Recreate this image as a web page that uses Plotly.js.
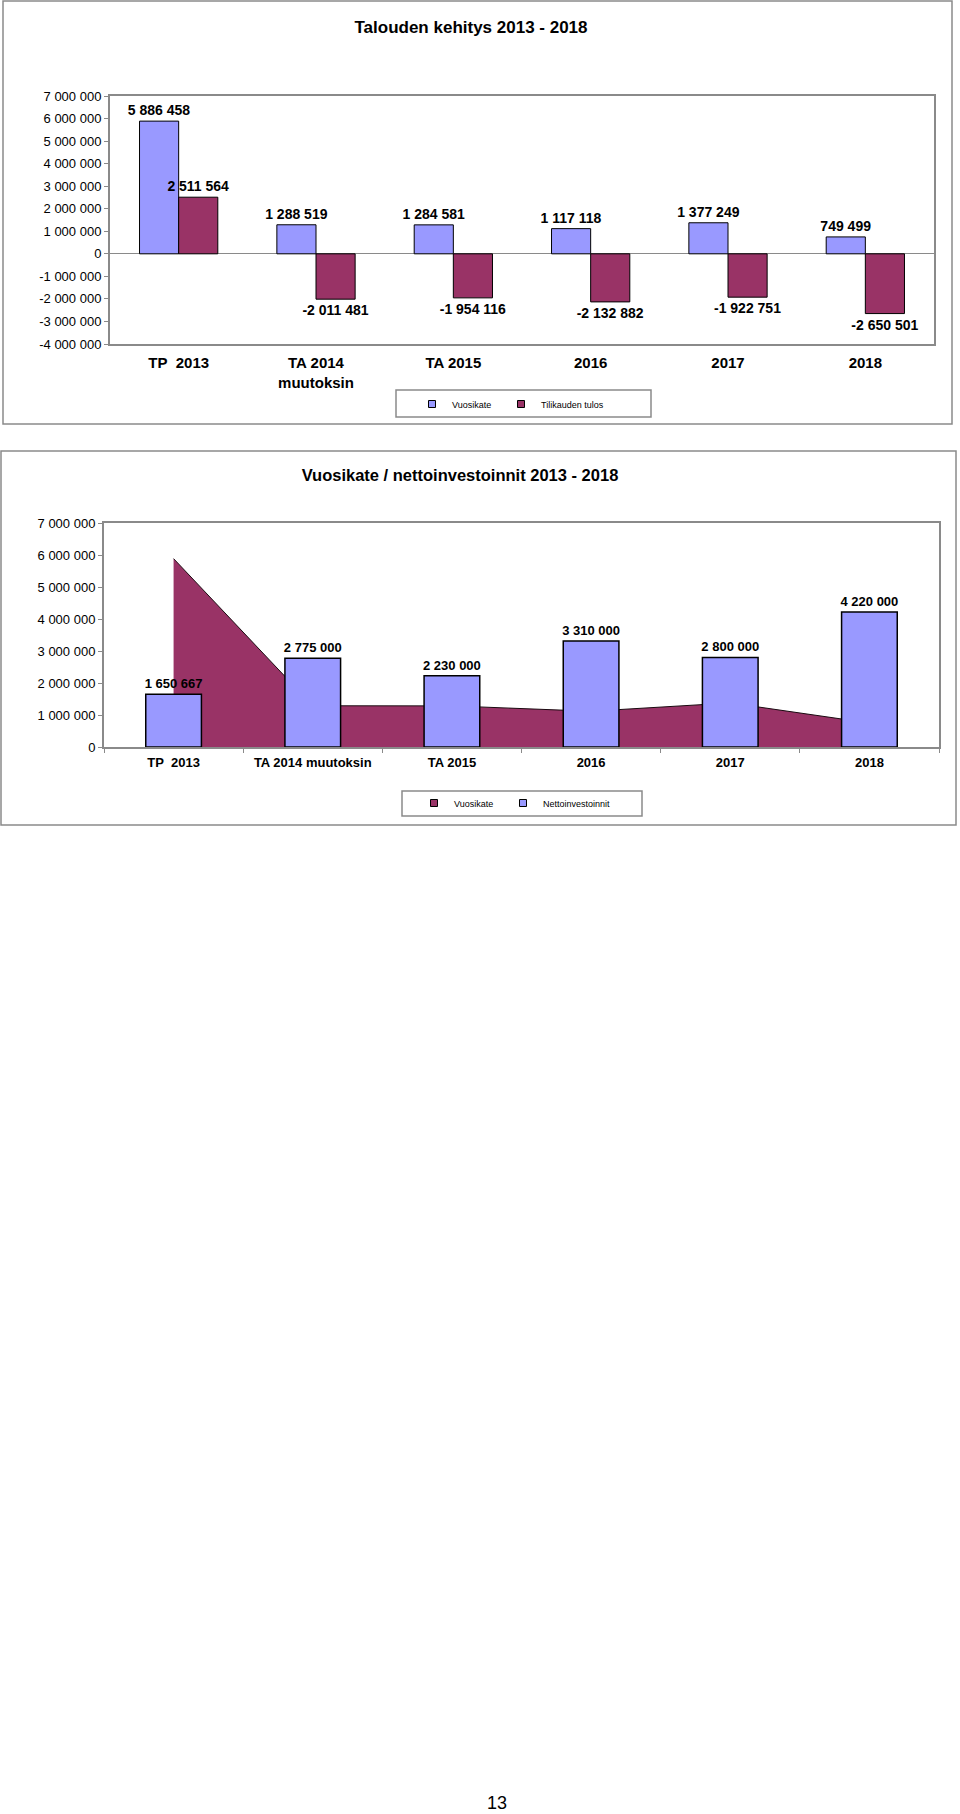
<!DOCTYPE html>
<html>
<head>
<meta charset="utf-8">
<script src="https://cdn.plot.ly/plotly-3.0.1.min.js"></script>
<style>
  html, body { margin: 0; padding: 0; background: #fff; }
  body { width: 960px; height: 1814px; position: relative; overflow: hidden; }
  #chart1 { position: absolute; left: 0; top: 0; width: 960px; height: 430px; }
  #chart2 { position: absolute; left: 0; top: 440px; width: 960px; height: 390px; }
  #pagenum { position: absolute; left: 0; width: 994px; top: 1793px; text-align: center;
             font-family: "Liberation Sans", Arial, sans-serif; font-size: 18px; color: #000; }
</style>
</head>
<body>
<div id="chart1"></div>
<div id="chart2"></div>
<div id="pagenum">13</div>
<script>
// ---------- DATA ----------
const categories1 = ['TP\u00a0 2013', 'TA 2014<br>muutoksin', 'TA 2015', '2016', '2017', '2018'];
const categories2 = ['TP\u00a0 2013', 'TA 2014 muutoksin', 'TA 2015', '2016', '2017', '2018'];
const vuosikate = [5886458, 1288519, 1284581, 1117118, 1377249, 749499];
const tilikaudenTulos = [2511564, -2011481, -1954116, -2132882, -1922751, -2650501];
const nettoinvestoinnit = [1650667, 2775000, 2230000, 3310000, 2800000, 4220000];
const yTicks1 = [-4000000, -3000000, -2000000, -1000000, 0, 1000000, 2000000, 3000000, 4000000, 5000000, 6000000, 7000000];
const yTicks2 = [0, 1000000, 2000000, 3000000, 4000000, 5000000, 6000000, 7000000];
const title1 = 'Talouden kehitys 2013 - 2018';
const title2 = 'Vuosikate / nettoinvestoinnit 2013 - 2018';

// ---------- HELPERS ----------
function fmt(v) {
  const s = Math.abs(v).toString().replace(/\B(?=(\d{3})+(?!\d))/g, ' ');
  return (v < 0 ? '-' : '') + s;
}
const FONT = '"Liberation Sans", Arial, sans-serif';
const BLUE = '#9999FF';
const MAROON = '#993366';
const FRAME = '#8a8a8a';

function mk(l, t, w, h) {
  return {
    x: px => (px - l) / w,
    y: py => (t + h - py) / h
  };
}

// ---------- CHART 1 ----------
(function () {
  const W = 960, H = 430, l = 110, t = 96, r = 26, b = 86;
  const pw = W - l - r, ph = H - t - b;
  const P = mk(l, t, pw, ph);
  const yMin = yTicks1[0], yMax = yTicks1[yTicks1.length - 1];

  const traces = [
    {
      type: 'bar', name: 'Vuosikate', x: categories1, y: vuosikate,
      marker: { color: BLUE, line: { color: '#000', width: 1 } },
      text: vuosikate.map(fmt), textposition: 'outside', cliponaxis: false,
      constraintext: 'none',
      textfont: { family: FONT, size: 14, color: '#000', weight: 'bold' },
      showlegend: false, hoverinfo: 'skip'
    },
    {
      type: 'bar', name: 'Tilikauden tulos', x: categories1, y: tilikaudenTulos,
      marker: { color: MAROON, line: { color: '#000', width: 1 } },
      text: tilikaudenTulos.map(fmt), textposition: 'outside', cliponaxis: false,
      constraintext: 'none',
      textfont: { family: FONT, size: 14, color: '#000', weight: 'bold' },
      showlegend: false, hoverinfo: 'skip'
    },
    { type: 'scatter', mode: 'markers', name: 'Vuosikate', x: [null], y: [null],
      marker: { symbol: 'square', size: 7, color: BLUE, line: { color: '#000', width: 1 } } },
    { type: 'scatter', mode: 'markers', name: 'Tilikauden tulos', x: [null], y: [null],
      legendwidth: 90,
      marker: { symbol: 'square', size: 7, color: MAROON, line: { color: '#000', width: 1 } } }
  ];

  const layout = {
    width: W, height: H,
    margin: { l: l, r: r, t: t, b: b, pad: 0 },
    paper_bgcolor: '#fff', plot_bgcolor: '#fff',
    font: { family: FONT, color: '#000' },
    title: { text: title1, font: { family: FONT, size: 17, weight: 'bold', color: '#000' },
             x: 471 / W, xref: 'container', xanchor: 'center',
             y: 1 - 27 / H, yref: 'container', yanchor: 'middle' },
    barmode: 'group', bargap: 0.43, bargroupgap: 0,
    xaxis: {
      type: 'category', categoryorder: 'array', categoryarray: categories1,
      range: [-0.5, categories1.length - 0.5],
      showline: true, mirror: true, linecolor: FRAME, linewidth: 2,
      ticks: '', showgrid: false, zeroline: false,
      tickfont: { family: FONT, size: 15, weight: 'bold', color: '#000' },
      ticklabelstandoff: 4
    },
    xaxis2: {
      overlaying: 'x', anchor: 'free', position: (0 - yMin) / (yMax - yMin),
      type: 'linear', range: [-0.5, categories1.length - 0.5],
      tickvals: categories1.slice(1).map((_, i) => i + 0.5),
      ticks: 'outside', ticklen: 4, tickcolor: FRAME, tickwidth: 1,
      showticklabels: false, showline: false, showgrid: false, zeroline: false
    },
    yaxis: {
      range: [yMin, yMax], tickvals: yTicks1, ticktext: yTicks1.map(fmt),
      showline: true, mirror: true, linecolor: FRAME, linewidth: 2,
      ticks: 'outside', ticklen: 4, tickcolor: FRAME,
      showgrid: false, zeroline: true, zerolinecolor: FRAME, zerolinewidth: 1,
      tickfont: { family: FONT, size: 13, color: '#000' }
    },
    showlegend: true,
    legend: {
      orientation: 'h', xref: 'container', yref: 'container',
      x: 412 / W, xanchor: 'left', y: 1 - 404 / H, yanchor: 'middle',
      bgcolor: 'rgba(0,0,0,0)', borderwidth: 0,
      font: { family: FONT, size: 9, color: '#000' },
      entrywidth: 44, entrywidthmode: 'pixels', itemclick: false, itemdoubleclick: false
    },
    shapes: [
      { type: 'rect', xref: 'paper', yref: 'paper', layer: 'below',
        x0: P.x(3), x1: P.x(952), y0: P.y(424), y1: P.y(1),
        line: { color: FRAME, width: 1.5 }, fillcolor: 'rgba(0,0,0,0)' },
      { type: 'rect', xref: 'paper', yref: 'paper', layer: 'below',
        x0: P.x(396), x1: P.x(651), y0: P.y(417), y1: P.y(390),
        line: { color: FRAME, width: 1.5 }, fillcolor: 'rgba(0,0,0,0)' }
    ]
  };
  Plotly.newPlot('chart1', traces, layout, { staticPlot: true, displayModeBar: false });
})();

// ---------- CHART 2 ----------
(function () {
  const W = 960, H = 390, l = 104, t = 83, r = 21, b = 83;
  const pw = W - l - r, ph = H - t - b;
  const P = mk(l, t, pw, ph);
  const yMin = yTicks2[0], yMax = yTicks2[yTicks2.length - 1];

  const traces = [
    {
      type: 'scatter', mode: 'lines', name: 'Vuosikate', x: categories2, y: vuosikate,
      fill: 'tozeroy', fillcolor: MAROON, line: { color: '#1a0a10', width: 1 },
      showlegend: false, hoverinfo: 'skip', xaxis: 'x', yaxis: 'y'
    },
    {
      type: 'bar', name: 'Nettoinvestoinnit', x: categories2, y: nettoinvestoinnit,
      xaxis: 'x', yaxis: 'y2',
      marker: { color: BLUE, line: { color: '#000', width: 1.5 } },
      text: nettoinvestoinnit.map(fmt), textposition: 'outside', cliponaxis: false,
      constraintext: 'none',
      textfont: { family: FONT, size: 13, color: '#000', weight: 'bold' },
      showlegend: false, hoverinfo: 'skip'
    },
    { type: 'scatter', mode: 'markers', name: 'Vuosikate', x: [null], y: [null],
      marker: { symbol: 'square', size: 7, color: MAROON, line: { color: '#000', width: 1 } } },
    { type: 'scatter', mode: 'markers', name: 'Nettoinvestoinnit', x: [null], y: [null],
      legendwidth: 90,
      marker: { symbol: 'square', size: 7, color: BLUE, line: { color: '#000', width: 1 } } }
  ];

  const layout = {
    width: W, height: H,
    margin: { l: l, r: r, t: t, b: b, pad: 0 },
    paper_bgcolor: '#fff', plot_bgcolor: '#fff',
    font: { family: FONT, color: '#000' },
    title: { text: title2, font: { family: FONT, size: 16.5, weight: 'bold', color: '#000' },
             x: 460 / W, xref: 'container', xanchor: 'center',
             y: 1 - 35 / H, yref: 'container', yanchor: 'middle' },
    bargap: 0.6,
    xaxis: {
      type: 'category', categoryorder: 'array', categoryarray: categories2,
      range: [-0.5, categories2.length - 0.5],
      showline: true, mirror: true, linecolor: FRAME, linewidth: 2,
      ticks: 'outside', tickson: 'boundaries', ticklen: 4, tickcolor: FRAME,
      showgrid: false, zeroline: false,
      tickfont: { family: FONT, size: 13, weight: 'bold', color: '#000' },
      ticklabelstandoff: 2
    },
    yaxis: {
      range: [yMin, yMax], tickvals: yTicks2, ticktext: yTicks2.map(fmt),
      showline: true, mirror: true, linecolor: FRAME, linewidth: 2,
      ticks: 'outside', ticklen: 4, tickcolor: FRAME,
      showgrid: false, zeroline: false,
      tickfont: { family: FONT, size: 13, color: '#000' }
    },
    yaxis2: {
      overlaying: 'y', range: [yMin, yMax], visible: false,
      showgrid: false, zeroline: false
    },
    showlegend: true,
    legend: {
      orientation: 'h', xref: 'container', yref: 'container',
      x: 414 / W, xanchor: 'left', y: 1 - 363 / H, yanchor: 'middle',
      bgcolor: 'rgba(0,0,0,0)', borderwidth: 0,
      font: { family: FONT, size: 9, color: '#000' },
      entrywidth: 44, entrywidthmode: 'pixels', itemclick: false, itemdoubleclick: false
    },
    shapes: [
      { type: 'rect', xref: 'paper', yref: 'paper', layer: 'below',
        x0: P.x(1), x1: P.x(956), y0: P.y(385), y1: P.y(11),
        line: { color: FRAME, width: 1.5 }, fillcolor: 'rgba(0,0,0,0)' },
      { type: 'rect', xref: 'paper', yref: 'paper', layer: 'below',
        x0: P.x(402), x1: P.x(642), y0: P.y(376), y1: P.y(351),
        line: { color: FRAME, width: 1.5 }, fillcolor: 'rgba(0,0,0,0)' }
    ]
  };
  Plotly.newPlot('chart2', traces, layout, { staticPlot: true, displayModeBar: false });
})();
</script>
</body>
</html>
